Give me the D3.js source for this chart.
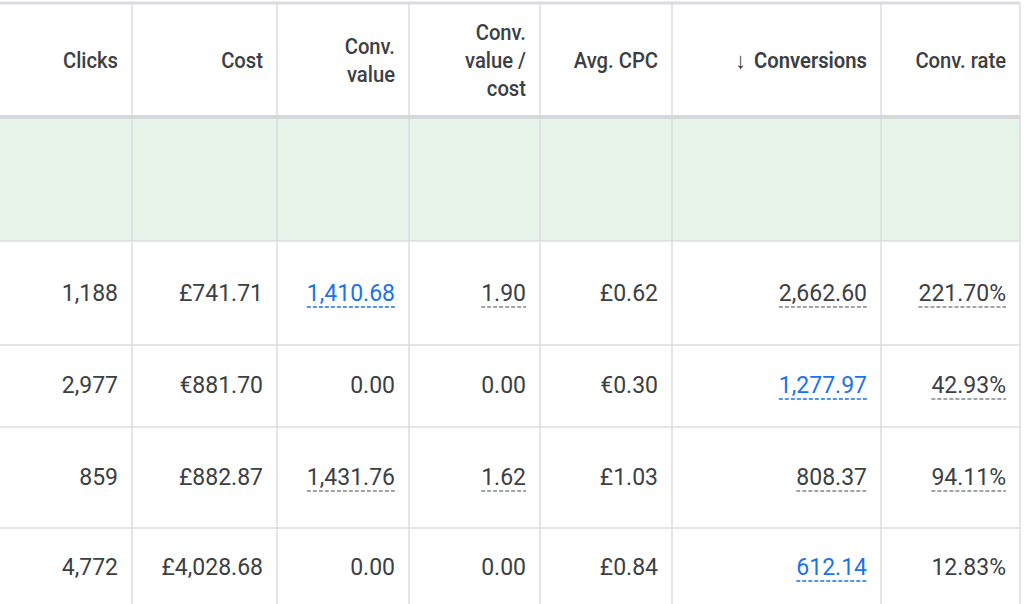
<!DOCTYPE html>
<html><head><meta charset="utf-8">
<script src="https://cdn.jsdelivr.net/npm/d3@7"></script>
<style>body{margin:0;background:#fff}svg{display:block;font-family:Roboto,"Noto Sans",sans-serif}</style>
</head><body><svg id="t"></svg>
<script>
const headers = [["Clicks"], ["Cost"], ["Conv.", "value"], ["Conv.", "value /", "cost"], ["Avg. CPC"], ["Conversions"], ["Conv. rate"]];
const clicks = ["1,188", "2,977", "859", "4,772"];
const cost = ["£741.71", "€881.70", "£882.87", "£4,028.68"];
const convValue = ["1,410.68", "0.00", "1,431.76", "0.00"];
const valuePerCost = ["1.90", "0.00", "1.62", "0.00"];
const avgCpc = ["£0.62", "€0.30", "£1.03", "£0.84"];
const conversions = ["2,662.60", "1,277.97", "808.37", "612.14"];
const convRate = ["221.70%", "42.93%", "94.11%", "12.83%"];
// cell style: 0 plain, 1 gray dashed underline, 2 blue dashed underline
const styles = [
  [0,0,0,0],[0,0,0,0],[2,0,1,0],[1,0,1,0],[0,0,0,0],[1,2,1,2],[1,1,1,0]
];
const columns = [clicks, cost, convValue, valuePerCost, avgCpc, conversions, convRate];

const W = 1024, H = 604;
const colEdges = [0, 132, 277, 409, 540, 672, 881, 1020];
const rowEdges = [117, 241, 345, 427, 528, 630];
const svg = d3.select("#t").attr("width", W).attr("height", H);

const x = i => colEdges[i];
svg.append("rect").attr("x", 0).attr("y", rowEdges[0]).attr("width", x(7)).attr("height", rowEdges[1]-rowEdges[0]).attr("fill", "#e6f4ea");

// grid lines
svg.selectAll(".v").data(colEdges.slice(1)).join("line")
  .attr("x1", d => d).attr("x2", d => d).attr("y1", 4).attr("y2", H).attr("stroke", "#dadce0").attr("stroke-width", 1.5);
svg.append("line").attr("x1", 0).attr("x2", x(7)).attr("y1", 3).attr("y2", 3).attr("stroke", "#dadce0").attr("stroke-width", 3);
svg.append("line").attr("x1", 0).attr("x2", x(7)).attr("y1", rowEdges[0]).attr("y2", rowEdges[0]).attr("stroke", "#d6d8db").attr("stroke-width", 4);
svg.selectAll(".h").data(rowEdges.slice(1, 5)).join("line")
  .attr("x1", 0).attr("x2", x(7)).attr("y1", d => d).attr("y2", d => d).attr("stroke", "#dadce0").attr("stroke-width", 1.5);

// headers
headers.forEach((lines, c) => {
  const t = svg.append("text").attr("text-anchor", "end").attr("font-size", 22)
    .attr("fill", "#3c4043").attr("font-weight", c === 5 ? 600 : 500)
    .attr("transform", `translate(${x(c+1) - 14},0) scale(0.92,1)`);
  const y0 = 60 - (lines.length - 1) * 14 + 8;
  lines.forEach((l, i) => t.append("tspan").attr("x", 0).attr("y", y0 + i * 28).text(l));
  if (c === 5) {
    const w = t.node().getBBox().width * 0.92;
    svg.append("text").attr("x", x(c+1) - 14 - w - 8).attr("y", 68).attr("text-anchor", "end")
      .attr("font-size", 22).attr("fill", "#3c4043").text("\u2193");
  }
});

// body cells
const rowY = [293, 385, 477, 567];
columns.forEach((vals, c) => {
  vals.forEach((v, r) => {
    const s = styles[c][r];
    const t = svg.append("text").attr("x", x(c+1) - 14).attr("y", rowY[r] + 8)
      .attr("text-anchor", "end").attr("font-size", 23)
      .attr("fill", s === 2 ? "#1a73e8" : "#3c4043").text(v);
    if (s) {
      const w = t.node().getComputedTextLength();
      svg.append("line").attr("x1", x(c+1) - 14 - w).attr("x2", x(c+1) - 14)
        .attr("y1", rowY[r] + 14).attr("y2", rowY[r] + 14)
        .attr("stroke", s === 2 ? "#1a73e8" : "#80868b").attr("stroke-width", 1.3).attr("stroke-dasharray", "4,2");
    }
  });
});
</script></body></html>
